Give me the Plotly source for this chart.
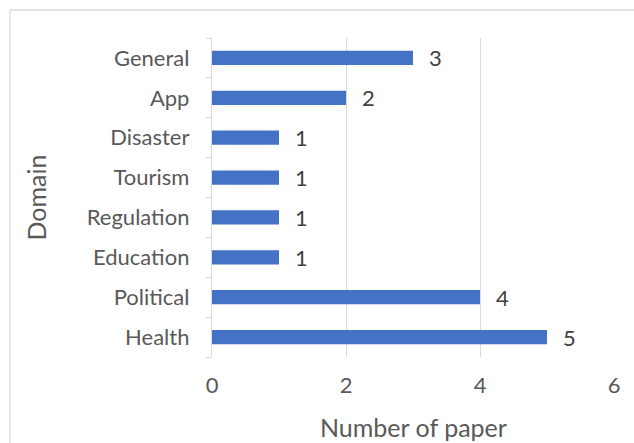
import plotly.graph_objects as go

categories = ["Health", "Political", "Education", "Regulation", "Tourism", "Disaster", "App", "General"]
values = [5, 4, 1, 1, 1, 1, 2, 3]
x_ticks = [0, 2, 4, 6]

W, H = 634, 443
L, R, T, B = 212, 20, 38, 86
pw, ph = W - L - R, H - T - B

fig = go.Figure(go.Bar(
    y=categories, x=values, orientation="h",
    marker=dict(color="#4472C4", line=dict(width=0)),
    width=0.36, hoverinfo="x+y",
))

for c, v in zip(categories, values):
    fig.add_annotation(x=v, y=c, text=str(v), showarrow=False, xanchor="left", xshift=14,
                       font=dict(size=22, color="#404040"))

# axis titles
fig.add_annotation(x=0.5, y=(H - B - 427) / ph, xref="paper", yref="paper", text="Number of paper",
                   showarrow=False, font=dict(size=25, color="#595959"), xanchor="center", yanchor="middle")
fig.add_annotation(x=(35 - L) / pw, y=0.5, xref="paper", yref="paper", text="Domain", textangle=-90,
                   showarrow=False, font=dict(size=25, color="#595959"), xanchor="center", yanchor="middle")

font = "Lato, Open Sans, sans-serif"
fig.update_layout(
    width=W, height=H, margin=dict(l=L, r=R, t=T, b=B),
    paper_bgcolor="white", plot_bgcolor="white",
    font=dict(family=font, color="#595959", size=22),
    showlegend=False,
    xaxis=dict(range=[0, 6], tickvals=x_ticks, showgrid=True, gridcolor="#D9D9D9", gridwidth=1.3,
               zeroline=False, showline=False, ticks="", tickfont=dict(size=22, color="#595959"),
               ticklabelstandoff=13, automargin=False),
    yaxis=dict(categoryorder="array", categoryarray=categories, showline=True, linecolor="#D9D9D9",
               linewidth=1.3, ticks="outside", tickson="boundaries", ticklen=5, tickcolor="#D9D9D9",
               tickfont=dict(size=22, color="#595959"), showgrid=False, ticklabelstandoff=17,
               automargin=False),
    shapes=[dict(type="rect", xref="paper", yref="paper",
                 x0=(10 - L) / pw, x1=(W + 5 - L) / pw,
                 y0=(H - B - (H + 5)) / ph, y1=(H - B - 10) / ph,
                 line=dict(color="#D9D9D9", width=1.3), fillcolor="rgba(0,0,0,0)", layer="below")],
)

fig.write_html("out.html")
